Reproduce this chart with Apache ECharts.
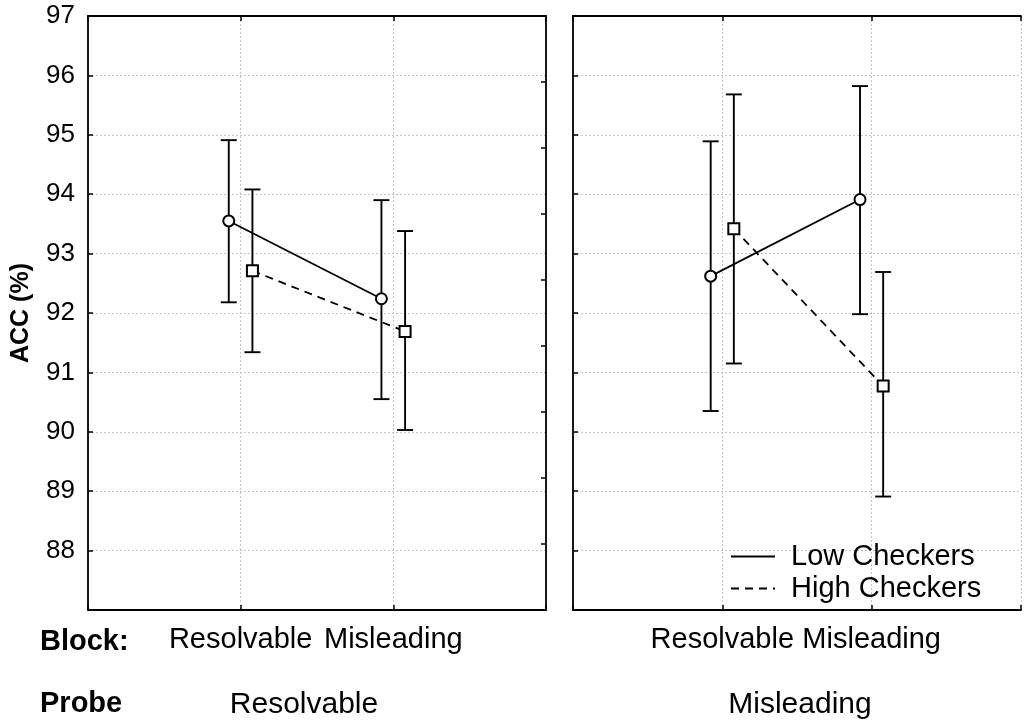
<!DOCTYPE html>
<html>
<head>
<meta charset="utf-8">
<script src="https://cdn.jsdelivr.net/npm/echarts@6/dist/echarts.min.js"></script>
<style>
  html, body { margin: 0; padding: 0; background: #fff; }
  #chart { width: 1024px; height: 722px; }
</style>
</head>
<body>
<div id="chart"></div>
<script>
// one panel per probe type, two block types along x
const probeLabels = ["Resolvable", "Misleading"];
const blockLabels = ["Resolvable", "Misleading"];
const seriesNames = ["Low Checkers", "High Checkers"];

// [probe][block]
const lowMean = [[93.55, 92.24], [92.62, 93.91]];
const lowLower = [[92.18, 90.55], [90.35, 91.98]];
const lowUpper = [[94.91, 93.90], [94.89, 95.82]];
const highMean = [[92.71, 91.69], [93.42, 90.77]];
const highLower = [[91.34, 90.03], [91.15, 88.91]];
const highUpper = [[94.08, 93.38], [95.68, 92.69]];

const yMin = 87;
const yMax = 97;

const FONT = "'Liberation Sans', Arial, sans-serif";
const lowOffset = -0.078;
const highOffset = 0.077;

const chart = echarts.init(document.getElementById("chart"));

const gridBase = { top: 16, height: 594, width: 458 };
const frameLine = { show: true, onZero: false, lineStyle: { color: "#000", width: 1.8 } };
const splitStyle = { show: true, lineStyle: { color: "#c4c4c4", type: [2, 2], width: 1 } };
const tickStyle = { show: true, inside: true, length: 5, lineStyle: { color: "#000", width: 1.5 } };

function xAxisPair(gridIndex) {
  return [
    {
      type: "value", gridIndex: gridIndex, min: 0, max: 3, interval: 1, position: "bottom",
      axisLine: frameLine, axisTick: tickStyle, splitLine: splitStyle,
      axisLabel: {
        margin: 15, fontSize: 29, color: "#000", fontFamily: FONT,
        formatter: (v) => (v >= 1 && v <= 2 ? blockLabels[v - 1] : ""),
      },
    },
    {
      type: "value", gridIndex: gridIndex, min: 0, max: 3, interval: 1, position: "top",
      axisLine: frameLine, axisTick: tickStyle, splitLine: { show: false },
      axisLabel: { show: false },
    },
  ];
}

function errorBars(name, xAxisIndex, yAxisIndex, data) {
  return {
    type: "custom", name: name + " err", xAxisIndex, yAxisIndex, z: 2, silent: true,
    data: data,
    renderItem: function (params, api) {
      const x = api.value(0);
      const lo = api.coord([x, api.value(1)]);
      const hi = api.coord([x, api.value(2)]);
      const cap = 8;
      const style = { stroke: "#000", lineWidth: 1.9 };
      return {
        type: "group",
        children: [
          { type: "line", shape: { x1: lo[0], y1: lo[1], x2: hi[0], y2: hi[1] }, style },
          { type: "line", shape: { x1: lo[0] - cap, y1: lo[1], x2: lo[0] + cap, y2: lo[1] }, style },
          { type: "line", shape: { x1: hi[0] - cap, y1: hi[1], x2: hi[0] + cap, y2: hi[1] }, style },
        ],
      };
    },
  };
}

const series = [];
probeLabels.forEach((probe, p) => {
  const xi = p * 2;
  const yi = p === 0 ? 0 : 2;
  const lowPts = blockLabels.map((b, i) => [i + 1 + lowOffset, lowMean[p][i]]);
  const highPts = blockLabels.map((b, i) => [i + 1 + highOffset, highMean[p][i]]);
  series.push(errorBars(seriesNames[0], xi, yi,
    blockLabels.map((b, i) => [i + 1 + lowOffset, lowLower[p][i], lowUpper[p][i]])));
  series.push(errorBars(seriesNames[1], xi, yi,
    blockLabels.map((b, i) => [i + 1 + highOffset, highLower[p][i], highUpper[p][i]])));
  series.push({
    type: "line", name: seriesNames[0], xAxisIndex: xi, yAxisIndex: yi, z: 5,
    data: lowPts, symbol: "emptyCircle", symbolSize: 11, showAllSymbol: true,
    lineStyle: { color: "#000", width: 1.8, type: "solid" },
    itemStyle: { color: "#000", borderColor: "#000", borderWidth: 1 },
  });
  series.push({
    type: "line", name: seriesNames[1], xAxisIndex: xi, yAxisIndex: yi, z: 5,
    data: highPts, symbol: "emptyRect", symbolSize: 11,
    lineStyle: { color: "#000", width: 1.8, type: [8, 6] },
    itemStyle: { color: "#000", borderColor: "#000", borderWidth: 1 },
  });
});

const option = {
  animation: false,
  backgroundColor: "#fff",
  textStyle: { fontFamily: FONT },
  grid: [
    Object.assign({ left: 88 }, gridBase),
    Object.assign({ left: 573 }, gridBase),
  ],
  xAxis: xAxisPair(0).concat(xAxisPair(1)),
  yAxis: [
    {
      type: "value", gridIndex: 0, min: yMin, max: yMax, interval: 1,
      axisLine: frameLine, axisTick: tickStyle, splitLine: splitStyle,
      axisLabel: {
        margin: 13, fontSize: 26, color: "#000", fontFamily: FONT,
        formatter: (v) => (v === yMin ? "" : String(v)),
      },
      name: "ACC (%)", nameLocation: "middle", nameGap: 54,
      nameTextStyle: { fontSize: 25, fontWeight: "bold", color: "#000", fontFamily: FONT },
    },
    {
      type: "value", gridIndex: 0, position: "right", min: 0, max: 9, interval: 1,
      axisLine: frameLine, axisTick: tickStyle, splitLine: { show: false },
      axisLabel: { show: false },
    },
    {
      type: "value", gridIndex: 1, min: yMin, max: yMax, interval: 1,
      axisLine: frameLine, axisTick: tickStyle, splitLine: splitStyle,
      axisLabel: { show: false },
    },
  ],
  legend: {
    data: seriesNames,
    orient: "vertical",
    left: 725, top: 537,
    itemWidth: 44, itemHeight: 14, itemGap: 3,
    itemStyle: { opacity: 0 },
    textStyle: { fontSize: 29, color: "#000", fontFamily: FONT, padding: [0, 0, 0, 11] },
  },
  graphic: [
    { type: "text", left: 40, top: 627, style: { text: "Block:", font: "bold 29px " + FONT, fill: "#000" } },
    { type: "text", left: 40, top: 689, style: { text: "Probe", font: "bold 29px " + FONT, fill: "#000" } },
    { type: "text", x: 304, y: 705, style: { text: probeLabels[0], font: "30px " + FONT, fill: "#000", align: "center", verticalAlign: "middle" } },
    { type: "text", x: 800, y: 705, style: { text: probeLabels[1], font: "30px " + FONT, fill: "#000", align: "center", verticalAlign: "middle" } },
  ],
  series: series,
};

chart.setOption(option);
</script>
</body>
</html>
